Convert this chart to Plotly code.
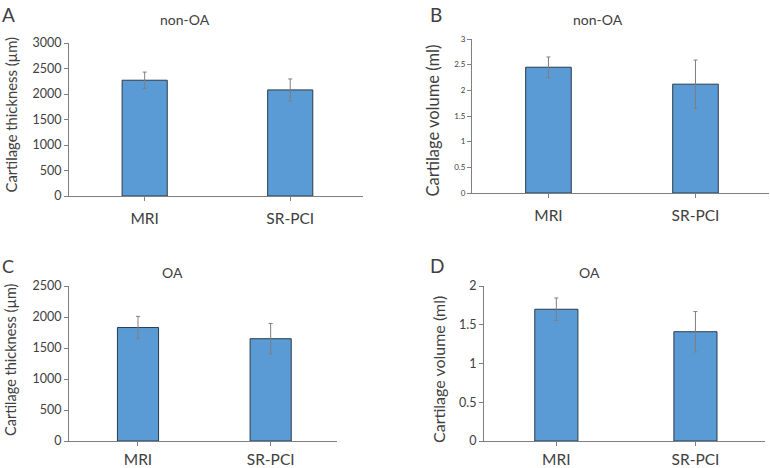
import plotly.graph_objects as go

categories = ["MRI", "SR-PCI"]

thick_nonoa = [2270, 2080]
thick_nonoa_err = [160, 215]
vol_nonoa = [2.45, 2.12]
vol_nonoa_err = [0.20, 0.47]
thick_oa = [1830, 1650]
thick_oa_err = [180, 245]
vol_oa = [1.70, 1.41]
vol_oa_err = [0.145, 0.26]

panel_letters = ["A", "B", "C", "D"]
panel_titles = ["non-OA", "non-OA", "OA", "OA"]
y_titles = ["Cartilage thickness (µm)", "Cartilage volume (ml)",
            "Cartilage thickness (µm)", "Cartilage volume (ml)"]

W, H = 770, 468
FONT = "Lato"
TXT = "#404040"

panels = [
    dict(vals=thick_nonoa, err=thick_nonoa_err, x=(69, 363), y0=196, y1=43, rng=[0, 3000], dt=500, tfs=12.5,
         yt=(10, 114.5, 14.8), lt=(0, 1, 19), tt=(185, 19.5), so=4),
    dict(vals=vol_nonoa, err=vol_nonoa_err, x=(472, 769), y0=193, y1=39, rng=[0, 3], dt=0.5, tfs=8,
         yt=(433, 120.5, 16.5), lt=(428, 1, 19), tt=(598, 19.5), so=4),
    dict(vals=thick_oa, err=thick_oa_err, x=(69, 337), y0=441, y1=286, rng=[0, 2500], dt=500, tfs=12.5,
         yt=(10, 360, 14.5), lt=(0, 253, 18), tt=(172, 272), so=0),
    dict(vals=vol_oa, err=vol_oa_err, x=(484, 765), y0=441, y1=286, rng=[0, 2], dt=0.5, tfs=12.5,
         yt=(438, 370, 16), lt=(428, 252, 19), tt=(589, 272), so=0),
]

fig = go.Figure()
layout = dict(
    width=W, height=H, margin=dict(l=0, r=0, t=0, b=0, autoexpand=False),
    paper_bgcolor="white", plot_bgcolor="white", showlegend=False,
    font=dict(family=FONT, color=TXT),
)
annotations = []
for i, p in enumerate(panels):
    n = "" if i == 0 else str(i + 1)
    xa, ya = "x" + n, "y" + n
    fig.add_trace(go.Bar(
        x=categories, y=p["vals"], xaxis=xa, yaxis=ya, width=0.31,
        marker=dict(color="#5b9bd5", line=dict(color="#2a3a4a", width=1)),
        error_y=dict(type="data", array=p["err"], color="#7f7f7f", thickness=1, width=2),
        hoverinfo="skip",
    ))
    layout["xaxis" + n] = dict(
        domain=[p["x"][0] / W, p["x"][1] / W], anchor=ya, range=[-0.52, 1.5], automargin=False,
        showline=True, linecolor="#7f7f7f", linewidth=1, ticks="outside", ticklen=4,
        ticklabelstandoff=p["so"],
        tickcolor="#7f7f7f", tickfont=dict(size=15.5, family=FONT, color=TXT),
        showgrid=False, zeroline=False, fixedrange=True,
    )
    layout["yaxis" + n] = dict(
        domain=[1 - p["y0"] / H, 1 - p["y1"] / H], anchor=xa, range=p["rng"], dtick=p["dt"],
        automargin=False,
        showline=True, linecolor="#7f7f7f", linewidth=1, ticks="outside", ticklen=4,
        tickcolor="#7f7f7f", tickfont=dict(size=p["tfs"], family=FONT, color=TXT),
        showgrid=False, zeroline=False, fixedrange=True,
    )
    annotations.append(dict(text=y_titles[i], x=p["yt"][0] / W, y=1 - p["yt"][1] / H, textangle=-90,
                            xanchor="center", yanchor="middle", font=dict(size=p["yt"][2])))
    annotations.append(dict(text=panel_letters[i], x=p["lt"][0] / W, y=1 - p["lt"][1] / H,
                            xanchor="left", yanchor="top", font=dict(size=p["lt"][2])))
    annotations.append(dict(text=panel_titles[i], x=p["tt"][0] / W, y=1 - p["tt"][1] / H,
                            xanchor="center", yanchor="middle", font=dict(size=14)))
for a in annotations:
    a.update(xref="paper", yref="paper", showarrow=False)
    a["font"].update(family=FONT, color=TXT)
layout["annotations"] = annotations
fig.update_layout(**layout)
fig.write_html("out.html", config={"displayModeBar": False},
               post_script="document.body.style.margin='0';document.body.style.overflow='hidden';")
